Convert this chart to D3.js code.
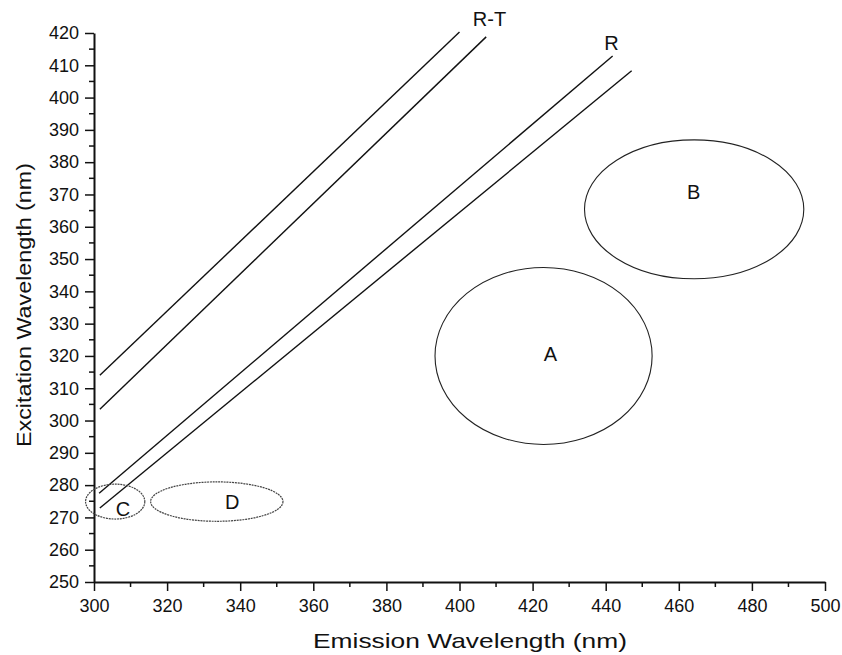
<!DOCTYPE html>
<html>
<head>
<meta charset="utf-8">
<script src="https://cdn.jsdelivr.net/npm/d3@7"></script>
<style>
  body { margin: 0; background: #fff; }
  svg text { font-family: "Liberation Sans", Arial, Helvetica, sans-serif; fill: #111; }
</style>
</head>
<body>
<svg id="chart" width="842" height="655"></svg>
<script>
// tick labels
var xTicks = [300, 320, 340, 360, 380, 400, 420, 440, 460, 480, 500];
var xMinor = [310, 330, 350, 370, 390, 410, 430, 450, 470, 490];
var yTicks = [250, 260, 270, 280, 290, 300, 310, 320, 330, 340, 350, 360, 370, 380, 390, 400, 410, 420];
var yMinor = [255, 265, 275, 285, 295, 305, 315, 325, 335, 345, 355, 365, 375, 385, 395, 405, 415];

// scatter lines (Rayleigh-Tyndall / Rayleigh bands)
var lineStart = [[301.6, 314.0], [301.6, 303.5], [301.4, 277.5], [301.6, 272.9]];
var lineEnd = [[400.0, 420.3], [407.3, 418.8], [441.9, 412.9], [447.1, 408.3]];
var lineLabels = ["R-T", "R"];
var lineLabelPos = [[408.2, 424.3], [441.6, 416.9]];

// fluorescence regions
var regionNames = ["A", "B", "C", "D"];
var regionCx = [423.0, 464.2, 305.8, 333.6];
var regionCy = [320.0, 365.4, 274.9, 274.9];
var regionRx = [29.7, 30.0, 8.1, 18.1];
var regionRy = [27.4, 21.5, 5.4, 6.1];
var regionDotted = [false, false, true, true];
var regionLabelPos = [[424.9, 320.5], [464.1, 370.8], [307.9, 272.5], [337.8, 274.9]];

var svg = d3.select("#chart");

var x = d3.scaleLinear().domain([300, 500]).range([94, 825]);
var y = d3.scaleLinear().domain([250, 420]).range([582, 33]);

// axes
var xAxis = svg.append("g")
    .attr("transform", "translate(0," + y(250) + ")")
    .call(d3.axisBottom(x).tickValues(xTicks).tickSize(9).tickSizeOuter(0).tickPadding(8));
xAxis.append("g").selectAll("line")
    .data(xMinor).enter().append("line")
    .attr("x1", function(d) { return x(d); })
    .attr("x2", function(d) { return x(d); })
    .attr("y1", 0).attr("y2", 5)
    .attr("stroke", "#111").attr("stroke-width", 1.5);

var yAxis = svg.append("g")
    .attr("transform", "translate(" + x(300) + ",0)")
    .call(d3.axisLeft(y).tickValues(yTicks).tickSize(9).tickSizeOuter(0).tickPadding(6));
yAxis.append("g").selectAll("line")
    .data(yMinor).enter().append("line")
    .attr("y1", function(d) { return y(d); })
    .attr("y2", function(d) { return y(d); })
    .attr("x1", 0).attr("x2", -5)
    .attr("stroke", "#111").attr("stroke-width", 1.5);

[xAxis, yAxis].forEach(function(a) {
    a.attr("font-size", null).attr("font-family", null);
    a.select(".domain").attr("stroke", "#111").attr("stroke-width", 2);
    a.selectAll(".tick line").attr("stroke", "#111").attr("stroke-width", 1.5);
    a.selectAll(".tick text")
        .style("font-size", "18px")
        .attr("fill", "#111");
});

// axis titles
svg.append("text")
    .attr("x", 470).attr("y", 648)
    .attr("text-anchor", "middle")
    .attr("textLength", 314).attr("lengthAdjust", "spacingAndGlyphs")
    .style("font-size", "21px")
    .text("Emission Wavelength (nm)");

svg.append("text")
    .attr("transform", "translate(31,305) rotate(-90)")
    .attr("text-anchor", "middle")
    .attr("textLength", 284).attr("lengthAdjust", "spacingAndGlyphs")
    .style("font-size", "21px")
    .text("Excitation Wavelength (nm)");

// scatter lines
svg.append("g").selectAll("line")
    .data(lineStart).enter().append("line")
    .attr("x1", function(d) { return x(d[0]); })
    .attr("y1", function(d) { return y(d[1]); })
    .attr("x2", function(d, i) { return x(lineEnd[i][0]); })
    .attr("y2", function(d, i) { return y(lineEnd[i][1]); })
    .attr("stroke", "#111")
    .attr("stroke-width", 1.4);

svg.append("g").selectAll("text")
    .data(lineLabels).enter().append("text")
    .attr("x", function(d, i) { return x(lineLabelPos[i][0]); })
    .attr("y", function(d, i) { return y(lineLabelPos[i][1]); })
    .attr("text-anchor", "middle")
    .attr("dominant-baseline", "central")
    .style("font-size", "20px")
    .text(function(d) { return d; });

// regions
svg.append("g").selectAll("ellipse")
    .data(regionNames).enter().append("ellipse")
    .attr("cx", function(d, i) { return x(regionCx[i]); })
    .attr("cy", function(d, i) { return y(regionCy[i]); })
    .attr("rx", function(d, i) { return x(300 + regionRx[i]) - x(300); })
    .attr("ry", function(d, i) { return y(250) - y(250 + regionRy[i]); })
    .attr("fill", "none")
    .attr("stroke", function(d, i) { return regionDotted[i] ? "#444" : "#222"; })
    .attr("stroke-width", function(d, i) { return regionDotted[i] ? 1.2 : 1.1; })
    .attr("stroke-dasharray", function(d, i) { return regionDotted[i] ? "2,0.8" : null; });

svg.append("g").selectAll("text")
    .data(regionNames).enter().append("text")
    .attr("x", function(d, i) { return x(regionLabelPos[i][0]); })
    .attr("y", function(d, i) { return y(regionLabelPos[i][1]); })
    .attr("text-anchor", "middle")
    .attr("dominant-baseline", "central")
    .style("font-size", "20px")
    .text(function(d) { return d; });
</script>
</body>
</html>
